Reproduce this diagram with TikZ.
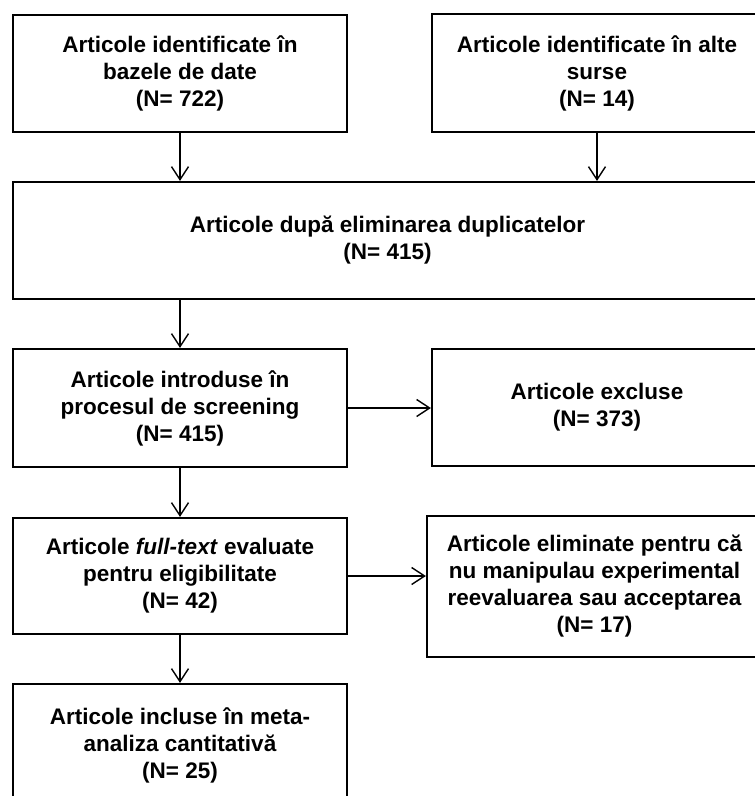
\documentclass[tikz,border=0pt]{standalone}
\usepackage{fontspec}
\setmainfont{Liberation Sans}
\usetikzlibrary{arrows.meta}
\begin{document}
\begin{tikzpicture}[x=1pt,y=-1pt,
  box/.style={draw,line width=2.2pt,inner sep=0pt,align=center,
    font=\fontsize{22.5}{27}\selectfont\bfseries},
  arr/.style={line width=1.4pt,-{Straight Barb[length=13pt,width=17pt,line width=1.4pt]}}]
\clip (0,0) rectangle (755,796);
\node[box,minimum width=334pt,minimum height=117pt] (b1) at (180,73.5)
  {Articole identificate în\\bazele de date\\(N= 722)};
\node[box,minimum width=330pt,minimum height=118pt] (b2) at (597,73)
  {Articole identificate în alte\\surse\\(N= 14)};
\node[box,minimum width=749pt,minimum height=117pt] (b3) at (387.5,240.5)
  {Articole după eliminarea duplicatelor\\(N= 415)};
\node[box,minimum width=334pt,minimum height=118pt] (b4) at (180,408)
  {Articole introduse în\\procesul de screening\\(N= 415)};
\node[box,minimum width=330pt,minimum height=117pt] (b5) at (597,407.5)
  {Articole excluse\\(N= 373)};
\node[box,minimum width=334pt,minimum height=116pt] (b6) at (180,576)
  {Articole \textit{full-text} evaluate\\pentru eligibilitate\\(N= 42)};
\node[box,minimum width=335pt,minimum height=141pt] (b7) at (594.5,586.5)
  {Articole eliminate pentru că\\nu manipulau experimental\\reevaluarea sau acceptarea\\(N= 17)};
\node[box,minimum width=334pt,minimum height=122pt] (b8) at (180,745)
  {Articole incluse în meta-\\analiza cantitativă\\(N= 25)};
\draw[arr] (b1.south) -- (b1.south |- b3.north);
\draw[arr] (b2.south) -- (b2.south |- b3.north);
\draw[arr] (b4.north |- b3.south) -- (b4.north);
\draw[arr] (b4.east) -- (b4.east -| b5.west);
\draw[arr] (b4.south) -- (b6.north);
\draw[arr] (b6.east) -- (b6.east -| b7.west);
\draw[arr] (b6.south) -- (b8.north);
\end{tikzpicture}
\end{document}
